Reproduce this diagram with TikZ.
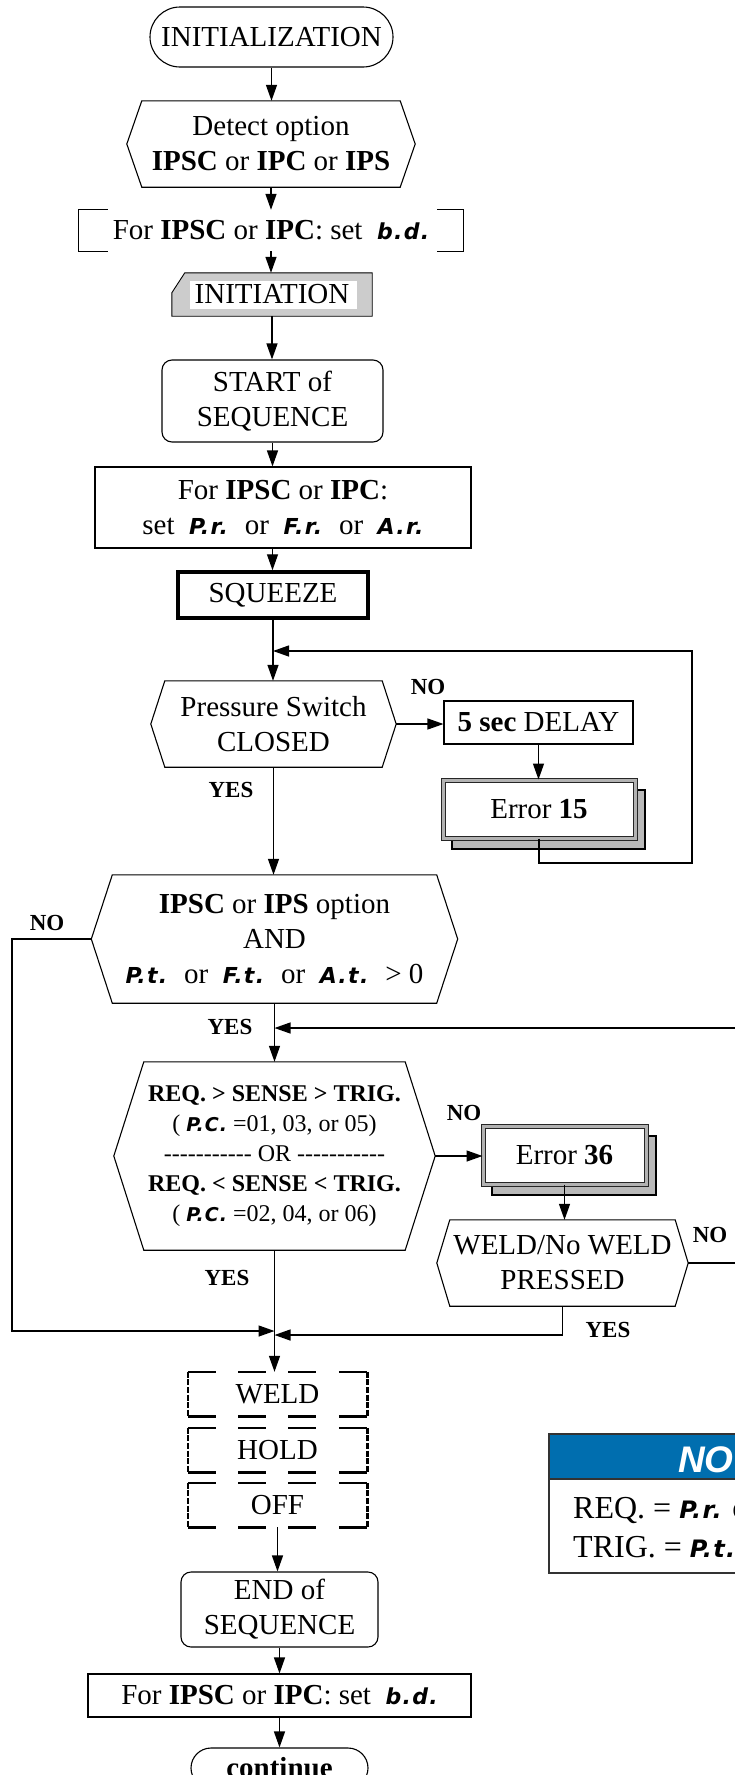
\documentclass[tikz,border=0pt]{standalone}
\usepackage{fontspec}
\setmainfont{Liberation Serif}
\newfontfamily\lcdfont{DejaVu Sans}[LetterSpace=6]
\newfontfamily\notesans{Liberation Sans}
\usetikzlibrary{arrows.meta,shapes.misc,backgrounds,calc}
\definecolor{notebl}{RGB}{0,110,175}
\newcommand\lcd[2][22]{{\lcdfont\fontsize{#1}{#1}\selectfont\bfseries\itshape #2}}
\newcommand\hy{-\kern0pt}
\newcommand\hyrow{\hy\hy\hy\hy\hy\hy\hy\hy\hy\hy\hy}
\newcommand\hexdraw[2]{\draw[line width=1.1pt] (#1.north west) -- (#1.north east) -- ([xshift=#2pt]#1.east) -- (#1.south east) -- (#1.south west) -- ([xshift=-#2pt]#1.west) -- cycle;}
\tikzset{
  base/.style={font=\fontsize{29}{35}\selectfont, align=center, inner sep=0pt},
  box/.style={base, draw, line width=1.1pt},
  errb/.style={base, draw=black!85, line width=1pt, double=gray!60, double distance=3pt, fill=white},
  ln/.style={line width=1.3pt},
  arr/.style={ln, -{Triangle[length=16pt,width=11pt]}},
  lbl/.style={font=\fontsize{23}{23}\selectfont\bfseries, inner sep=0pt},
  dline/.style={line width=2.6pt},
}
\begin{document}
\begin{tikzpicture}[x=1pt,y=-1pt]
\useasboundingbox (0,0) rectangle (735,1775);
\clip (0,0) rectangle (735,1775);

% ---------- nodes ----------
\node[box, rounded rectangle, minimum width=243, minimum height=60] (init) at (271.5,37) {INITIALIZATION};
\node[base, minimum width=258, minimum height=86] (detect) at (271,144) {Detect option\\\textbf{IPSC} or \textbf{IPC} or \textbf{IPS}};
\hexdraw{detect}{15}
\node[base, minimum width=384, minimum height=41] (bd1) at (271,230.5) {For \textbf{IPSC} or \textbf{IPC}: set \ \lcd{b.d.}};
\draw[line width=1.1pt] ([shift={(29,0)}]bd1.north west) -- (bd1.north west) -- (bd1.south west) -- ([shift={(29,0)}]bd1.south west);
\draw[line width=1.1pt] ([shift={(-26,0)}]bd1.north east) -- (bd1.north east) -- (bd1.south east) -- ([shift={(-26,0)}]bd1.south east);
\node[base, minimum width=200, minimum height=43] (initn) at (272,294.5) {INITIATION};
\begin{scope}[on background layer]
\draw[line width=0.9pt, fill=gray!40] ([shift={(0,20)}]initn.north west) -- ([shift={(13,0)}]initn.north west) -- (initn.north east) -- (initn.south east) -- (initn.south west) -- cycle;
\fill[white] ([shift={(18,8)}]initn.north west) rectangle ([shift={(-15,-7)}]initn.south east);
\end{scope}
\node[box, rounded corners=10, minimum width=221, minimum height=82] (start) at (272.5,401) {START of\\SEQUENCE};
\node[box, minimum width=376, minimum height=81] (setpr) at (283,507.5) {For \textbf{IPSC} or \textbf{IPC}:\\set \ \lcd{P.r.} \ or \ \lcd{F.r.} \ or \ \lcd{A.r.}};
\node[box, line width=3.5pt, minimum width=190, minimum height=46] (squeeze) at (273,595) {SQUEEZE};
\node[base, minimum width=217, minimum height=86] (press) at (273.5,724) {Pressure Switch\\CLOSED};
\hexdraw{press}{14}
\node[box, minimum width=189, minimum height=43] (delay) at (538.5,722.5) {\textbf{5 sec} DELAY};
\node[errb, minimum width=192, minimum height=58] (err15) at (539,809) {Error \textbf{15}};
\node[base, minimum width=324, minimum height=128] (ipsc) at (274.5,939) {\textbf{IPSC} or \textbf{IPS} option\\AND\\\lcd{P.t.} \ or \ \lcd{F.t.} \ or \ \lcd{A.t.} \ > 0};
\hexdraw{ipsc}{21}
\node[base, font=\fontsize{24}{30}\selectfont, minimum width=261, minimum height=188] (req) at (274.5,1156) {\textbf{REQ. > SENSE > TRIG.}\\( \lcd[19]{P.C.} =01, 03, or 05)\\\hyrow\ OR \hyrow\\\textbf{REQ. < SENSE < TRIG.}\\( \lcd[19]{P.C.} =02, 04, or 06)};
\hexdraw{req}{30}
\node[errb, minimum width=163, minimum height=58] (err36) at (564.5,1155) {Error \textbf{36}};
\node[base, minimum width=225, minimum height=86] (wnw) at (562.5,1263) {WELD/No WELD\\PRESSED};
\hexdraw{wnw}{13}
\begin{scope}[on background layer]
\path[fill=gray!55, draw=black, line width=2pt] ([shift={(9,10)}]err15.north west) rectangle ([shift={(9,10)}]err15.south east);
\path[fill=gray!55, draw=black, line width=2pt] ([shift={(9,10)}]err36.north west) rectangle ([shift={(9,10)}]err36.south east);
\end{scope}

\foreach \nm/\yy/\tx in {weld/1394/WELD, hold/1450/HOLD, off/1505/OFF}{
  \node[base, minimum width=179, minimum height=44] (\nm) at (277.5,\yy) {\tx};
  \draw[dline, dash pattern=on 28pt off 22.33pt] (\nm.north west) -- (\nm.north east);
  \draw[dline, dash pattern=on 28pt off 22.33pt] (\nm.south west) -- (\nm.south east);
  \draw[dline, dash pattern=on 6pt off 1.6pt] (\nm.north west) -- (\nm.south west);
  \draw[dline, dash pattern=on 6pt off 1.6pt] (\nm.north east) -- (\nm.south east);
}
\node[box, rounded corners=10, minimum width=197, minimum height=75] (endn) at (279.5,1609.5) {END of\\SEQUENCE};
\node[box, minimum width=383, minimum height=43] (bd2) at (279.5,1695.5) {For \textbf{IPSC} or \textbf{IPC}: set \ \lcd{b.d.}};
\node[box, rounded rectangle, minimum width=177, minimum height=40, font=\fontsize{29}{35}\selectfont\bfseries] (cont) at (279.5,1768) {continue};

% ---------- junctions ----------
\coordinate (j1) at (273,651);
\coordinate (r1) at (692,863);
\coordinate (j2) at (274.5,1028);
\coordinate (r2) at (760,1028);
\coordinate (l1) at (12,1331);
\coordinate (j3) at (274.5,1331);
\coordinate (j4) at (274.5,1335);

% ---------- connectors ----------
\draw[arr] (init.south) -- (init.south |- detect.north);
\draw[arr] (detect.south) -- (detect.south |- bd1.north);
\draw[arr] (bd1.south) -- (bd1.south |- initn.north);
\draw[arr] (initn.south) -- (initn.south |- start.north);
\draw[arr] (start.south) -- (start.south |- setpr.north);
\draw[arr] (start.south |- setpr.south) -- (start.south |- squeeze.north);
\draw[arr] (squeeze.south) -- (squeeze.south |- press.north);
\draw[arr] ([xshift=14pt]press.east) -- (delay.west |- press.east);
\draw[arr] (delay.south) -- (delay.south |- err15.north);
\draw[arr] (err15.south) |- (r1) |- (j1);
\draw[arr] (press.south) -- (press.south |- ipsc.north);
\draw[arr] ([xshift=-21pt]ipsc.west) -| (l1) -- (j3);
\draw[arr] (ipsc.south) -- (ipsc.south |- req.north);
\draw[arr] (r2) -- (j2);
\draw[ln] ([xshift=13pt]wnw.east) -| (r2);
\draw[arr] ([xshift=30pt]req.east) -- (err36.west |- req.east);
\draw[arr] (err36.south) -- (err36.south |- wnw.north);
\draw[arr] (wnw.south) |- (j4);
\draw[arr] (req.south) -- (req.south |- weld.north);
\draw[arr] (off.south) -- (off.south |- endn.north);
\draw[arr] (endn.south) -- (endn.south |- bd2.north);
\draw[arr] (bd2.south) -- (bd2.south |- cont.north);

% ---------- labels ----------
\node[lbl] (no1) at (428,687) {NO};
\node[lbl] (yes1) at (231,790) {YES};
\node[lbl] (no2) at (47,923) {NO};
\node[lbl] (yes2) at (230,1027) {YES};
\node[lbl] (no3) at (464,1113) {NO};
\node[lbl] (yes3) at (227,1278) {YES};
\node[lbl] (no4) at (710,1235) {NO};
\node[lbl] (yes4) at (608,1330) {YES};

% ---------- note ----------
\fill[notebl] (549,1434) rectangle (800,1479);
\draw[line width=2.5pt, draw=black!80] (549,1434) rectangle (800,1573);
\draw[line width=2.5pt, draw=black!80] (549,1479) -- (800,1479);
\node[anchor=base west, inner sep=0pt, text=white, font=\notesans\fontsize{37}{37}\selectfont\bfseries\itshape] (notet) at (678,1472) {NO};
\node[anchor=base west, inner sep=0pt, font=\fontsize{32}{32}\selectfont] (noter) at (573,1518) {REQ. = \lcd[24]{P.r.} or};
\node[anchor=base west, inner sep=0pt, font=\fontsize{32}{32}\selectfont] (notetr) at (573,1557) {TRIG. = \lcd[24]{P.t.}};
\end{tikzpicture}
\end{document}
